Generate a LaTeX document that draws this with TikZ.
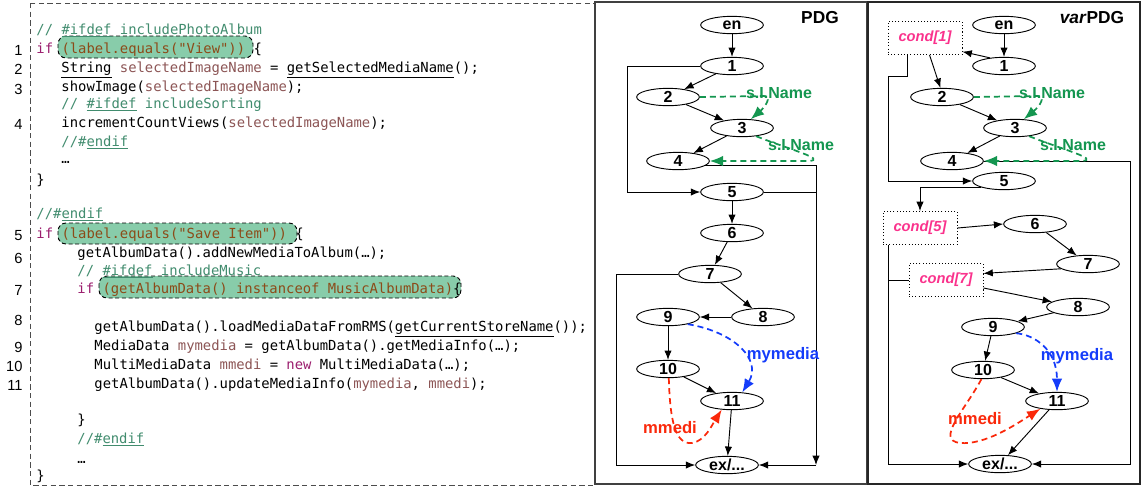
\documentclass[tikz,border=0pt]{standalone}
\usepackage{fontspec}
\setmainfont{Liberation Sans}
\newfontfamily\codefont{DejaVu Sans Mono}
\usepackage{xcolor}
\usepackage{tikz}
\usetikzlibrary{shapes,arrows.meta}

\definecolor{kwpurple}{RGB}{155,30,110}
\definecolor{varrose}{RGB}{140,85,85}
\definecolor{condbrown}{RGB}{140,75,25}
\definecolor{cmtgreen}{RGB}{65,140,110}
\definecolor{hlgreen}{RGB}{136,204,170}
\definecolor{depgreen}{RGB}{20,150,80}
\definecolor{depblue}{RGB}{20,60,250}
\definecolor{depred}{RGB}{250,40,10}
\definecolor{condpink}{RGB}{250,50,140}

\newcommand{\kwd}[1]{\textcolor{kwpurple}{#1}}
\newcommand{\vname}[1]{\textcolor{varrose}{#1}}
\newcommand{\condtext}[1]{\textcolor{condbrown}{#1}}
\newcommand{\cmnt}[1]{\textcolor{cmtgreen}{#1}}

\tikzstyle{stmt} = [ellipse, draw, minimum width=47pt, minimum height=13pt,
    inner sep=0pt, font=\fontsize{12}{12}\selectfont\bfseries]
\tikzstyle{cond} = [rectangle, draw, dash pattern=on 0.8pt off 1.6pt,
    minimum width=55.5pt, minimum height=24.75pt, text=condpink,
    font=\fontsize{11}{11}\selectfont\bfseries\itshape]
\tikzstyle{line} = [draw, -{Latex[length=7pt,width=5.5pt]}]
\tikzstyle{dep} = [draw, line width=1.3pt, dash pattern=on 4.5pt off 3pt,
    -{Latex[length=10pt,width=8pt]}]
\tikzstyle{deplabel} = [inner sep=0pt, font=\fontsize{12}{12}\selectfont\bfseries]
\tikzstyle{varlabel} = [inner sep=0pt, font=\fontsize{12.5}{12.5}\selectfont\bfseries]
\tikzstyle{title} = [inner sep=0pt, font=\fontsize{13}{13}\selectfont\bfseries]
\tikzstyle{code} = [anchor=west, inner sep=0pt, text height=8pt, text depth=2.5pt,
    font=\codefont\fontsize{10.4}{12}\selectfont]
\tikzstyle{lineno} = [anchor=east, inner sep=0pt, font=\fontsize{11}{12}\selectfont]
\tikzstyle{hilite} = [draw, fill=hlgreen, dash pattern=on 3pt off 2pt, rounded corners=6pt]

\begin{document}
\begin{tikzpicture}[x=0.75pt, y=-0.75pt, node distance=30.75pt, line width=0.7pt, auto]
    \useasboundingbox (0,0) rectangle (1142,487);
    % Frames
    \draw [dash pattern=on 4pt off 2.5pt, black!70] (30,3) rectangle (595,485);
    \draw [black!75, line width=0.8pt] (595,2) rectangle (867,484);
    \draw [black!85, line width=1pt] (868,2) rectangle (1140,484);

    % Source code
    \draw [hilite] (58,36) rectangle (253,58);
    \draw [hilite] (58,223) rectangle (297,244);
    \draw [hilite] (99,276) rectangle (461,298);
    \node [code] (srcA) at (36,31) {\cmnt{// \underline{\#ifdef} includePhotoAlbum}};
    \node [code] (src1) at (36,50) {\kwd{if} \condtext{(label.equals("View"))} \{};
    \node [code] (src2) at (61,69) {\underline{String} \vname{selectedImageName} = \underline{getSelectedMediaName}();};
    \node [code] (src3) at (61,88) {showImage(\vname{selectedImageName});};
    \node [code] (srcB) at (61,105) {\cmnt{// \underline{\#ifdef} includeSorting}};
    \node [code] (src4) at (61,124) {incrementCountViews(\vname{selectedImageName});};
    \node [code] (srcC) at (61,143) {\cmnt{//\#\underline{endif}}};
    \node [code] (srcD) at (61,160) {…};
    \node [code] (srcE) at (36,181) {\}};
    \node [code] (srcF) at (36,215) {\cmnt{//\#\underline{endif}}};
    \node [code] (src5) at (36,235) {\kwd{if} \condtext{(label.equals("Save Item"))} \{};
    \node [code] (src6) at (77,254) {getAlbumData().addNewMediaToAlbum(…);};
    \node [code] (srcG) at (77,272) {\cmnt{// \underline{\#ifdef} includeMusic}};
    \node [code] (src7) at (77,290) {\kwd{if} \condtext{(getAlbumData() instanceof MusicAlbumData)}\{};
    \node [code] (src8) at (94,328) {getAlbumData().loadMediaDataFromRMS(\underline{getCurrentStoreName}());};
    \node [code] (src9) at (94,347) {MediaData \vname{mymedia} = getAlbumData().getMediaInfo(…);};
    \node [code] (src10) at (94,366) {MultiMediaData \vname{mmedi} = \kwd{new} MultiMediaData(…);};
    \node [code] (src11) at (94,385) {getAlbumData().updateMediaInfo(\vname{mymedia}, \vname{mmedi});};
    \node [code] (srcH) at (77,421) {\}};
    \node [code] (srcI) at (77,440) {\cmnt{//\#\underline{endif}}};
    \node [code] (srcJ) at (77,460) {…};
    \node [code] (srcK) at (36,477) {\}};
    % Line numbers
    \node [lineno] (no1) at (23,50) {1};
    \node [lineno] (no2) at (23,69) {2};
    \node [lineno] (no3) at (23,89) {3};
    \node [lineno] (no4) at (23,124) {4};
    \node [lineno] (no5) at (23,236) {5};
    \node [lineno] (no6) at (23,258) {6};
    \node [lineno] (no7) at (23,290) {7};
    \node [lineno] (no8) at (23,320) {8};
    \node [lineno] (no9) at (23,347) {9};
    \node [lineno] (no10) at (23,366) {10};
    \node [lineno] (no11) at (23,385) {11};

    % PDG: place nodes
    \node [title] (ptitle) at (820,18) {PDG};
    \node [stmt] (pen) at (732,25) {en};
    \node [stmt, below of=pen] (p1) {1};
    \node [stmt] (p2) at (668,97) {2};
    \node [stmt] (p3) at (742,128) {3};
    \node [stmt] (p4) at (678,161) {4};
    \node [stmt] (p5) at (732,192) {5};
    \node [stmt, below of=p5] (p6) {6};
    \node [stmt] (p7) at (710,274) {7};
    \node [stmt] (p8) at (763,317) {8};
    \node [stmt] (p9) at (668,317) {9};
    \node [stmt] (p10) at (668,369) {10};
    \node [stmt] (p11) at (732,401) {11};
    \node [stmt] (pex) at (727,465) {ex/...};
    \coordinate (pleft) at (616,465);
    \coordinate (pright) at (816,465);
    % PDG: draw edges
    \path [line] (pen) -- (p1);
    \path [line] (p1) -- (p2);
    \path [line] (p2) -- (p3);
    \path [line] (p3) -- (p4);
    \path [line] (p1.west) -| (627,192) -- (p5.west);
    \path [line] (p5) -- (p6);
    \path [line] (p6) -- (p7);
    \path [line] (p7) -- (p8);
    \path [line] (p8) -- (p9);
    \path [line] (p9) -- (p10);
    \path [line] (p10) -- (p11);
    \path [line] (p11) -- (pex);
    \path [line] (p7.west) -| (pleft) -- (pex.west);
    \path [line] (p4.-10) -| (pright);
    \draw (p5.east) -- (p5.east -| pright);
    \path [line] (pright) -- (pex.east);
    % PDG: data dependences
    \path [dep, depgreen] (p2.east) -- (764,96) .. controls (772,96) and (766,106) .. (p3.45);
    \path [dep, depgreen] (p3.-30) .. controls (785,148) and (830,160) .. (808,161) -- (p4.east);
    \path [dep, depblue] (p9.-20) .. controls (735,332) and (762,360) .. (p11.40);
    \path [dep, depred] (p10.-85) .. controls (670,420) and (675,445) .. (692,443)
        .. controls (705,441) and (712,425) .. (p11.220);
    \node [deplabel, depgreen] (pl1) at (779,93) {s.I.Name};
    \node [deplabel, depgreen] (pl2) at (801,145) {s.I.Name};
    \node [varlabel, depblue] (pl3) at (783,355) {mymedia};
    \node [varlabel, depred] (pl4) at (670,428) {mmedi};

    % varPDG: place nodes
    \node [title] (vtitle) at (1092,18) {\textit{var}PDG};
    \node [stmt] (ven) at (1004,25) {en};
    \node [stmt, below of=ven] (v1) {1};
    \node [cond] (c1) at (925,38) {cond[1]};
    \node [stmt] (v2) at (942,97) {2};
    \node [stmt] (v3) at (1015,128) {3};
    \node [stmt] (v4) at (952,161) {4};
    \node [stmt] (v5) at (1004,181) {5};
    \node [cond] (c5) at (920,228) {cond[5]};
    \node [stmt] (v6) at (1035,224) {6};
    \node [stmt] (v7) at (1088,264) {7};
    \node [cond] (c7) at (946,280) {cond[7]};
    \node [stmt] (v8) at (1078,307) {8};
    \node [stmt] (v9) at (993,327) {9};
    \node [stmt] (v10) at (983,370) {10};
    \node [stmt] (v11) at (1057,401) {11};
    \node [stmt] (vex) at (1000,464) {ex/...};
    \coordinate (vright) at (1130,464);
    % varPDG: draw edges
    \path [line] (ven) -- (v1);
    \path [line] (v1.150) -- (c1.-20);
    \path [line] (c1.-75) -- (v2.100);
    \path [line] (v2) -- (v3);
    \path [line] (v3) -- (v4);
    \path [line] (c1.-136) |- (888,76) |- (v5.west);
    \path [line] (v5.195) -| (c5.north);
    \path [line] (c5.east) -- (v6.west);
    \path [line] (v6) -- (v7);
    \path [line] (v7.190) -- (c7.10);
    \path [line] (c7.-12) -- (v8);
    \path [line] (v8) -- (v9);
    \path [line] (v9) -- (v10);
    \path [line] (v10) -- (v11);
    \path [line] (v11) -- (vex);
    \path [line] (c5.-152) |- (vex.west);
    \draw (c7.west) -- (c7.west -| c5.-152);
    \path [line] (v4.east) -| (vright) -- (vex.east);
    % varPDG: data dependences
    \path [dep, depgreen] (v2.east) -- (1038,96) .. controls (1046,96) and (1040,106) .. (v3.45);
    \path [dep, depgreen] (v3.-30) .. controls (1058,148) and (1103,160) .. (1081,161) -- (v4.east);
    \path [dep, depblue] (v9.-15) .. controls (1035,335) and (1057,350) .. (v11.north);
    \path [dep, depred] (v10.-100) .. controls (965,410) and (935,440) .. (960,443)
        .. controls (985,445) and (1015,425) .. (v11.205);
    \node [deplabel, depgreen] (vl1) at (1052,93) {s.I.Name};
    \node [deplabel, depgreen] (vl2) at (1073,145) {s.I.Name};
    \node [varlabel, depblue] (vl3) at (1077,356) {mymedia};
    \node [varlabel, depred] (vl4) at (975,419) {mmedi};
\end{tikzpicture}
\end{document}
